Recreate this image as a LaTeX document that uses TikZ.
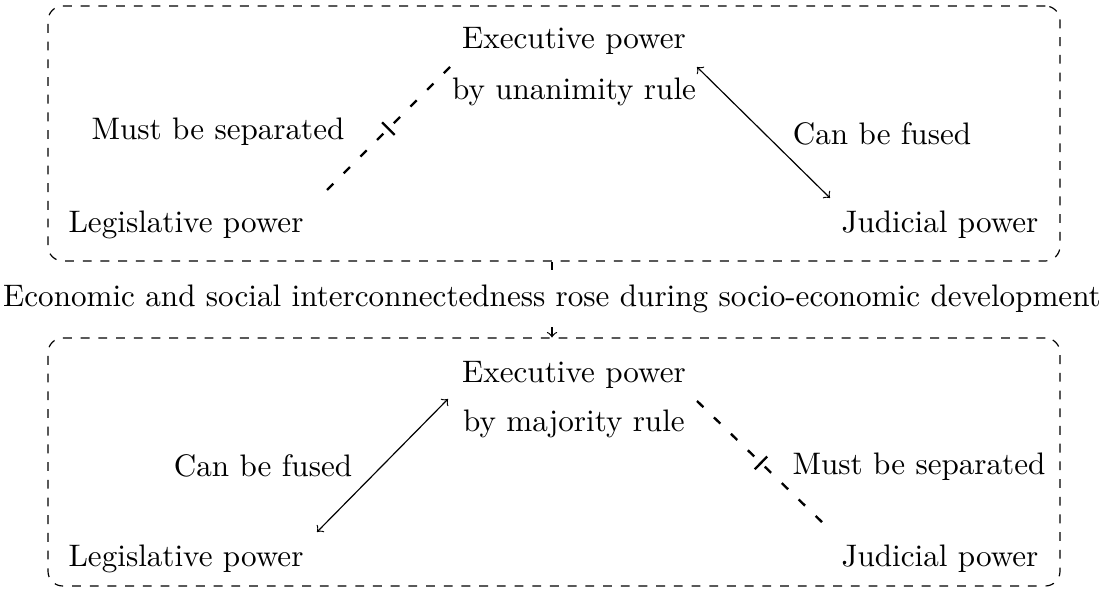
\documentclass[tikz,border=0pt]{standalone}
\usetikzlibrary{decorations.markings,fit}
\begin{document}
\begin{tikzpicture}[x=0.339pt,y=-0.339pt,
  lbl/.style={font=\fontsize{10.55}{12.66}\selectfont, inner sep=0pt, anchor=base},
  frame/.style={draw, dashed, rounded corners=5pt, line width=0.4pt, inner sep=0pt},
  sep/.style={line width=0.8pt, dash pattern=on 3pt off 5pt,
    postaction={decorate},
    decoration={markings, mark=at position 0.5 with {\draw[solid,line width=0.8pt] (0,-3pt) -- (0,3pt);}}},
  fuse/.style={<->, line width=0.4pt},
  flow/.style={->, dashed, line width=0.4pt}]
\useasboundingbox (0,0) rectangle (1105,595);
% frames
\node[frame, fit={(48,6) (1060,261)}] (box1) {};
\node[frame, fit={(48,338) (1060,586)}] (box2) {};
% top box
\node[lbl] (exec1) at (574,49) {Executive power};
\node[lbl] (rule1) at (574,100) {by unanimity rule};
\node[lbl] (leg1) at (186,233) {Legislative power};
\node[lbl] (jud1) at (940,233) {Judicial power};
\node[lbl] (sep1) at (218,140) {Must be separated};
\node[lbl] (fus1) at (882,145) {Can be fused};
\coordinate (s1a) at (327,190);
\coordinate (s1b) at (450,67);
\coordinate (f1a) at (697,67);
\coordinate (f1b) at (830,198);
\draw[sep] (s1a) -- (s1b);
\draw[fuse] (f1a) -- (f1b);
% middle
\node[lbl, inner xsep=0pt, inner ysep=4.5pt] (mid) at (552,307) {Economic and social interconnectedness rose during socio-economic development};
\draw[dashed, line width=0.4pt] (box1.south -| mid.north) -- (mid.north);
\draw[flow] (mid.south) -- (mid.south |- box2.north);
% bottom box
\node[lbl] (exec2) at (574,383) {Executive power};
\node[lbl] (rule2) at (574,432) {by majority rule};
\node[lbl] (leg2) at (186,567) {Legislative power};
\node[lbl] (jud2) at (940,567) {Judicial power};
\node[lbl] (fus2) at (263,477) {Can be fused};
\node[lbl] (sep2) at (919,475) {Must be separated};
\coordinate (f2a) at (448,399);
\coordinate (f2b) at (317,532);
\coordinate (s2a) at (697,401);
\coordinate (s2b) at (825,525);
\draw[fuse] (f2a) -- (f2b);
\draw[sep] (s2a) -- (s2b);
\end{tikzpicture}
\end{document}
